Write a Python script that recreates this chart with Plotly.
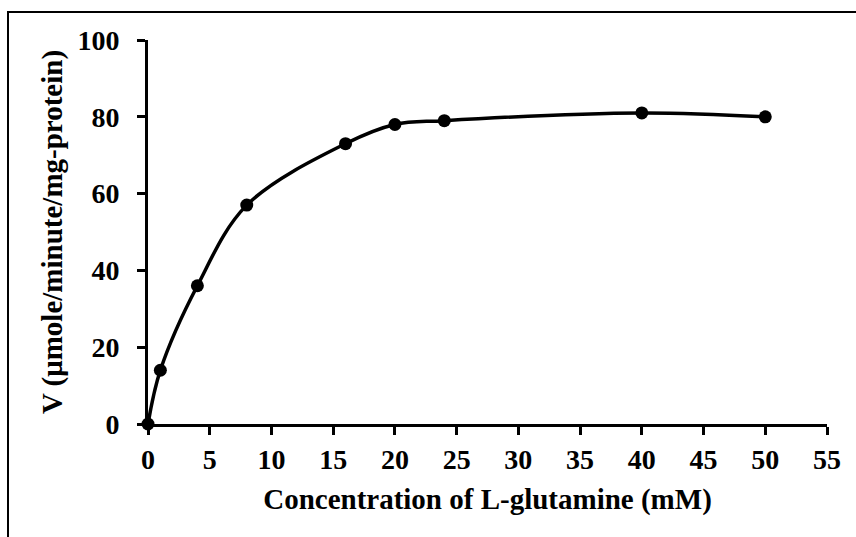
import plotly.graph_objects as go

# L-glutamine concentration (mM) and reaction velocity
concentration = [0, 1, 4, 8, 16, 20, 24, 40, 50]
velocity = [0, 14, 36, 57, 73, 78, 79, 81, 80]

x_ticks = list(range(0, 56, 5))
y_ticks = list(range(0, 101, 20))

FONT = dict(family="Liberation Serif, Times New Roman, serif", size=28, color="black", weight="bold")
TITLE_FONT = dict(FONT, size=29)

fig = go.Figure()
fig.add_trace(go.Scatter(
    x=concentration, y=velocity,
    mode="lines+markers",
    line=dict(shape="spline", smoothing=1.0, color="black", width=3.5),
    marker=dict(size=13, color="black"),
    cliponaxis=False,
    showlegend=False,
))

axis_common = dict(
    showline=True, linecolor="black", linewidth=3,
    ticks="outside", ticklen=8, tickwidth=3, tickcolor="black",
    showgrid=False, zeroline=False, tickfont=FONT,
)

fig.update_xaxes(
    range=[0, 55], tickvals=x_ticks, ticktext=[str(t) for t in x_ticks],
    title=dict(text="Concentration of L-glutamine (mM)", font=TITLE_FONT, standoff=16),
    ticklabelstandoff=0,
    **axis_common,
)
fig.update_yaxes(
    range=[0, 100], tickvals=y_ticks, ticktext=[str(t) for t in y_ticks],
    title=dict(text="V (μmole/minute/mg-protein)", font=TITLE_FONT, standoff=7),
    ticklabelstandoff=12,
    **axis_common,
)

# outer frame around the figure
L, R, T, B = 148, 29, 40, 113
pw, ph = 856 - L - R, 537 - T - B
fig.add_shape(
    type="rect", xref="paper", yref="paper",
    x0=(8 - L) / pw, x1=(870 - L) / pw,
    y0=-(550 - (537 - B)) / ph, y1=((537 - B) - 12) / ph,
    line=dict(color="black", width=2), layer="below",
)

fig.update_layout(
    width=856, height=537,
    margin=dict(l=L, r=R, t=T, b=B),
    paper_bgcolor="white", plot_bgcolor="white",
    font=FONT,
)

fig.write_html("out.html")
